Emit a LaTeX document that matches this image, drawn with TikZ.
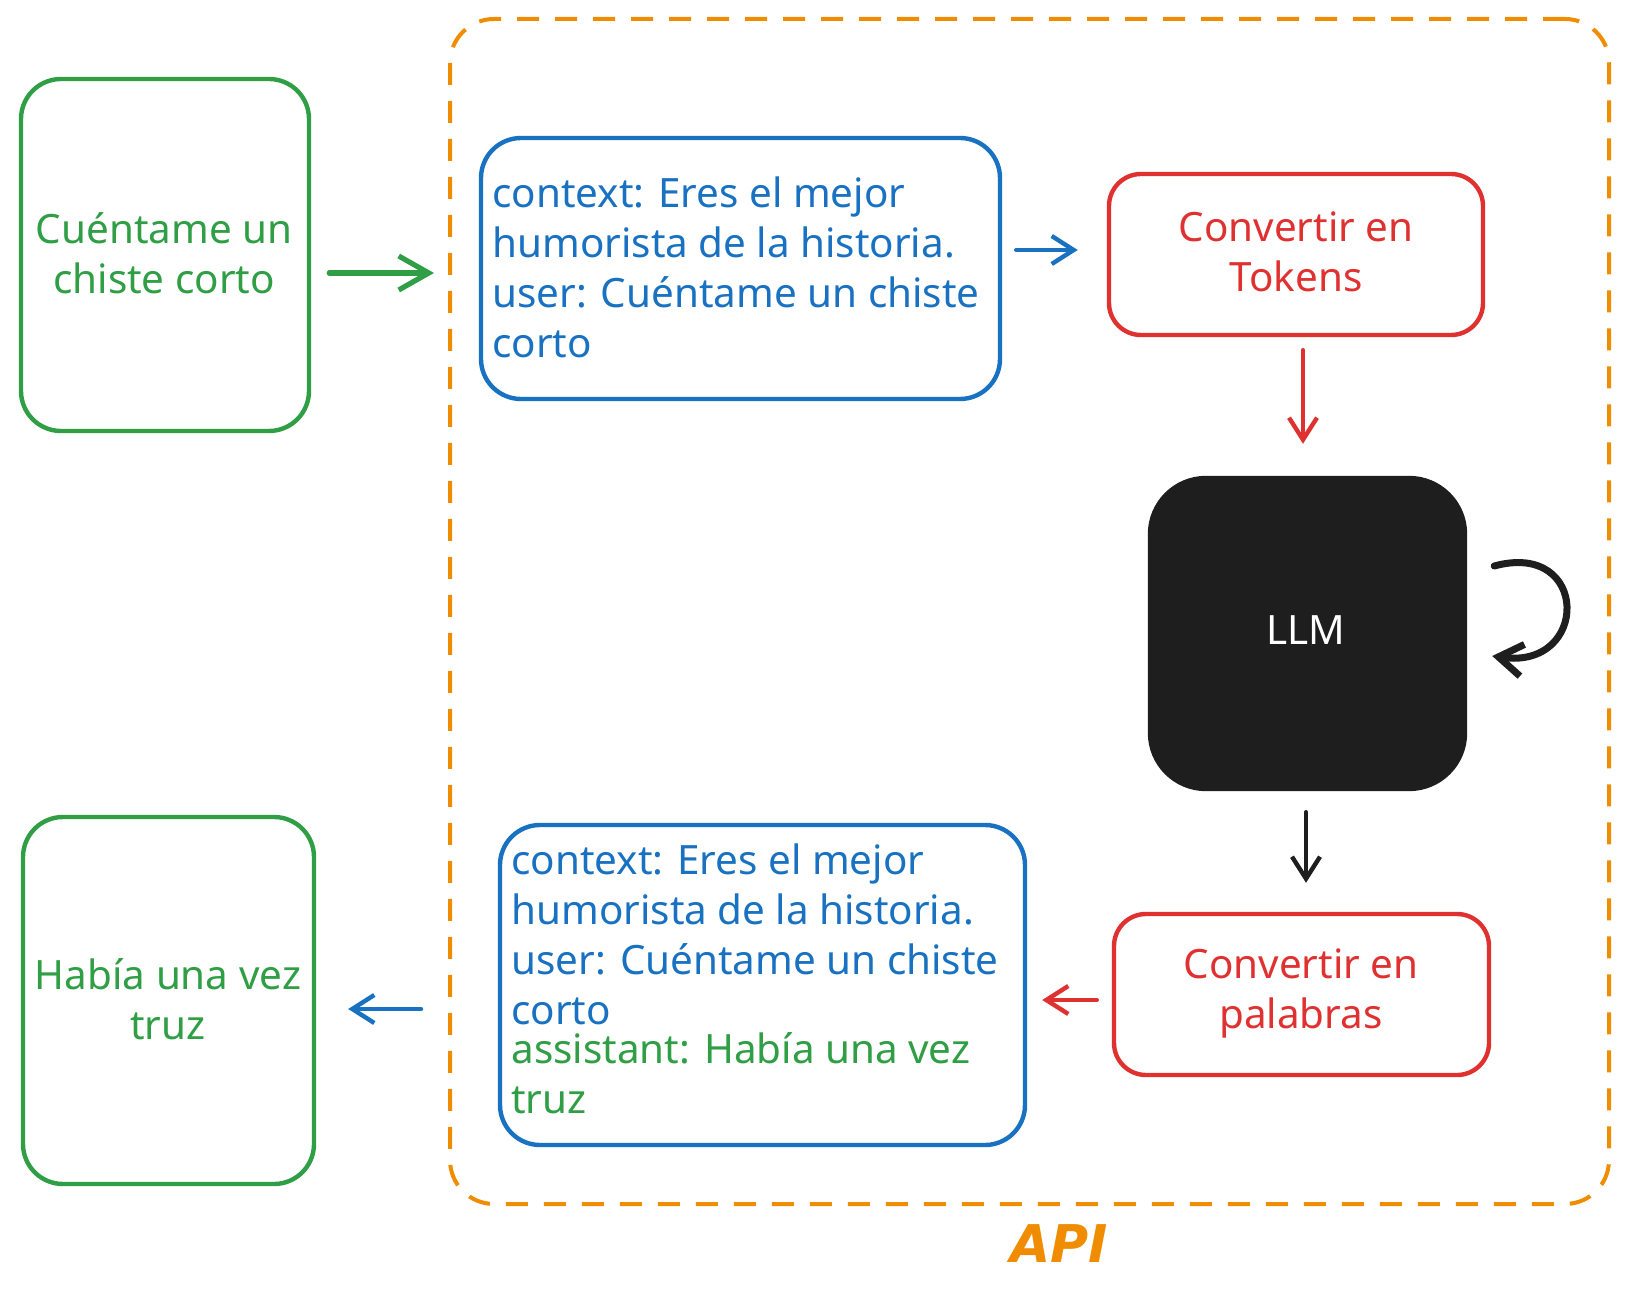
\documentclass[tikz,border=0pt]{standalone}
\usepackage{fontspec}
\setmainfont{Noto Sans}
\newfontfamily\apifont{DejaVu Sans}
\usetikzlibrary{arrows.meta,calc}
\definecolor{cgreen}{HTML}{2F9E44}
\definecolor{cblue}{HTML}{1971C2}
\definecolor{cred}{HTML}{E03131}
\definecolor{corange}{HTML}{F08C00}
\definecolor{cblack}{HTML}{1E1E1E}
\begin{document}
\begin{tikzpicture}[x=0.5pt,y=-0.5pt,
  box/.style={draw, line width=2.2pt, rounded corners=20pt, inner sep=0pt},
  txt/.style={font=\fontsize{20.2}{25}\selectfont, inner sep=0pt},
  arr/.style={line width=2.2pt, line cap=round, line join=round, -{Straight Barb[length=11pt,width=14pt]}},
  bigarr/.style={line width=2.6pt, line cap=round, line join=round, -{Straight Barb[length=15pt,width=17pt]}},
]
\useasboundingbox (0,0) rectangle (1628,1304);

% API frame
\node[draw=corange, line width=2pt, dash pattern=on 11pt off 8pt, rounded corners=22pt,
      minimum width=579.5pt, minimum height=592.5pt, inner sep=0pt] (api) at (1029.5,611.5) {};
\node[text=corange, inner sep=0pt, font=\apifont\fontsize{26}{30}\selectfont\bfseries\itshape] (apil) at (1059,1244) {API};

% left green boxes
\node[box, draw=cgreen, minimum width=144pt, minimum height=176pt] (g1) at (165,255) {};
\node[txt, text=cgreen, align=center] (g1t) at (164,253) {Cuéntame un\\chiste corto};
\node[box, draw=cgreen, minimum width=145.5pt, minimum height=183.5pt] (g2) at (168.5,1000.5) {};
\node[txt, text=cgreen, align=center] (g2t) at (168,999) {Había una vez\\truz};

% blue boxes
\node[box, draw=cblue, minimum width=259.5pt, minimum height=130.5pt] (b1) at (740.5,268.5) {};
\node[txt, text=cblue, align=left, anchor=west] (b1t) at (492,267) {context: Eres el mejor\\humorista de la historia.\\user: Cuéntame un chiste\\corto};
\node[box, draw=cblue, minimum width=262.5pt, minimum height=160pt] (b2) at (762.5,985) {};
\node[txt, text=cblue, align=left, anchor=west] (b2t) at (511,934.5) {context: Eres el mejor\\humorista de la historia.\\user: Cuéntame un chiste\\corto};
\node[txt, text=cgreen, align=left, anchor=west] (b2a) at (511,1073) {assistant: Había una vez\\truz};

% red boxes
\node[box, draw=cred, rounded corners=16pt, minimum width=187pt, minimum height=80.5pt] (r1) at (1296,254.5) {};
\node[txt, text=cred, align=center] (r1t) at (1296,252) {Convertir en\\Tokens};
\node[box, draw=cred, rounded corners=16pt, minimum width=187.5pt, minimum height=80.5pt] (r2) at (1301.5,994.5) {};
\node[txt, text=cred, align=center] (r2t) at (1301,993) {Convertir en\\palabras};

% LLM
\node[box, draw=cblack, fill=cblack, rounded corners=28pt, minimum width=157.5pt, minimum height=155.5pt] (llm) at (1307.5,633.5) {};
\node[txt, text=white] (llmt) at (1306,630) {LLM};

% connectors
\coordinate (a1s) at ([yshift=-9pt]g1.east);
\draw[bigarr, draw=cgreen, shorten <=9pt, shorten >=7pt] (a1s) -- (a1s -| api.west);

\coordinate (a2s) at ([yshift=9.25pt]b1.east);
\draw[arr, draw=cblue, shorten <=7pt, shorten >=14.5pt] (a2s) -- (a2s -| r1.west);

\coordinate (a3s) at ([xshift=3.5pt]r1.south);
\draw[arr, draw=cred, shorten <=6.5pt, shorten >=16pt] (a3s) -- (a3s |- llm.north);

\coordinate (a4s) at ([xshift=-0.75pt]llm.south);
\draw[arr, draw=cblack, shorten <=10.5pt, shorten >=14.5pt] (a4s) -- (a4s |- r2.north);

\coordinate (a5s) at ([yshift=-2.75pt]r2.west);
\draw[arr, draw=cred, shorten <=7.5pt, shorten >=7.5pt] (a5s) -- (a5s -| b2.east);

\coordinate (a6s) at ([yshift=-4.25pt]g2.east);
\draw[arr, draw=cblue, shorten <=13.5pt, shorten >=16pt] (a6s -| api.west) -- (a6s);

% self loop on LLM
\coordinate (ls) at ($(llm.east)+(27,-67.5)$);
\coordinate (le) at ($(llm.east)+(25,22.5)$);
\draw[line width=3.5pt, line cap=round, line join=round, draw=cblack, -{Straight Barb[length=12pt,width=16pt]}]
  (ls) .. controls (1590,540) and (1590,670) .. (le);
\end{tikzpicture}
\end{document}
